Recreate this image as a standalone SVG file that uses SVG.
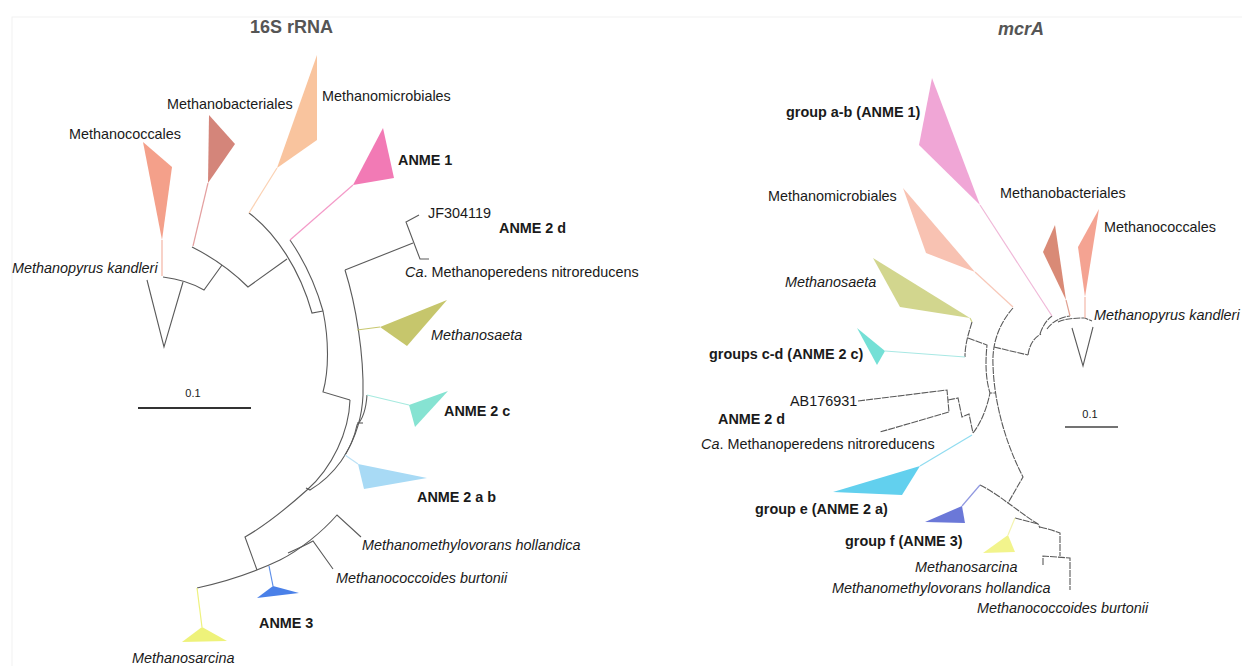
<svg xmlns="http://www.w3.org/2000/svg" width="1242" height="666" viewBox="0 0 1242 666">
<style>
text{font-family:"Liberation Sans",Arial,sans-serif;font-size:14.4px;fill:#1a1a1a}
.b{font-weight:bold}
.i{font-style:italic}
.t{font-size:18px;font-weight:bold;fill:#555}
.s{font-size:11px}
.br{fill:none;stroke:#5a5a5a;stroke-width:1.1}
.rb{fill:none;stroke:#5a5a5a;stroke-width:1.1;stroke-dasharray:7 1}
.st{fill:none;stroke-width:1.2}
</style>
<rect x="0" y="0" width="1242" height="666" fill="#fff"/>
<rect x="12" y="17" width="1240" height="660" fill="none" stroke="#f1f1f1"/>

<text class="t" x="250" y="33">16S rRNA</text>
<text class="t i" x="998" y="35">mcrA</text>

<!-- LEFT TREE connectors -->
<g id="left-connectors">
<path class="br" d="M163,277 Q187,280 204,290 L222,265"/>
<path class="br" d="M192,247 Q224,263 248,287 L287,259"/>
<path class="br" d="M249,213 C276,233 300,270 312,313 L323,311"/>
<path class="br" d="M290,240 Q312,272 323,311 C329,340 329,370 323,392 L350,400"/>
<path class="br" d="M350,400 C349,432 332,468 307,490 C288,507 266,525 245,537 L257,570"/>
<path class="br" d="M197,588 C225,582 255,572 280,560 C300,550 322,532 337,515 L361,537"/>
<path class="br" d="M288,553 C297,549 306,545 313,541 L333,569"/>
<path class="br" d="M345,270 L413,243"/>
<path class="br" d="M419,215 L406,222 L420,259 L429,259"/>
<path class="br" d="M345,270 C356,305 364,355 363,395 C362,420 354,440 345,455"/>
<path class="br" d="M367,395 C366,410 362,420 357,425 C352,450 335,475 310,490 L306,488"/>
<path class="br" d="M357,423 L363,423"/>
<path class="br" d="M147,280 L164,347 L183,282"/>
<line x1="138" y1="408" x2="251" y2="408" stroke="#333" stroke-width="2"/>
</g>
<text class="s" x="193" y="397" text-anchor="middle">0.1</text>

<!-- LEFT TREE nodes -->
<g id="l-methanococcales">
<path class="st" d="M162,240 L162,276" stroke="#f4b4a4"/>
<polygon points="143,142 172,167 162,240" fill="#f4a08a"/>
<text x="69" y="139">Methanococcales</text>
</g>
<g id="l-methanobacteriales">
<path class="st" d="M208,183 L193,246" stroke="#e4a0a0"/>
<polygon points="209,115 235,144 208,183" fill="#d4857a"/>
<text x="167" y="109">Methanobacteriales</text>
</g>
<g id="l-methanomicrobiales">
<path class="st" d="M277,168 L249,213" stroke="#fbd2b4"/>
<polygon points="317,55 317,140 277,168" fill="#f9c49e"/>
<text x="322" y="101">Methanomicrobiales</text>
</g>
<g id="l-anme1">
<path class="st" d="M353,185 L290,240" stroke="#f49ac8"/>
<polygon points="383,128 394,178 353,185" fill="#f27ab5"/>
<text class="b" x="398" y="165">ANME 1</text>
</g>
<g id="l-anme2d">
<text x="428" y="218">JF304119</text>
<text class="b" x="499" y="233">ANME 2 d</text>
<text x="405" y="277"><tspan class="i">Ca</tspan>. Methanoperedens nitroreducens</text>
</g>
<g id="l-methanopyrus">
<text class="i" x="12" y="273">Methanopyrus kandleri</text>
</g>
<g id="l-methanosaeta">
<path class="st" d="M357,330 L380,327" stroke="#c8c870"/>
<polygon points="380,327 447,300 407,346" fill="#c6c66c"/>
<text class="i" x="431" y="340">Methanosaeta</text>
</g>
<g id="l-anme2c">
<path class="st" d="M367,395 L409,405" stroke="#a6eadf"/>
<polygon points="409,405 448,391 415,427" fill="#86e3d2"/>
<text class="b" x="444" y="416">ANME 2 c</text>
</g>
<g id="l-anme2ab">
<path class="st" d="M345,455 L358,464" stroke="#bde2f6"/>
<polygon points="358,464 427,478 364,489" fill="#a8daf5"/>
<text class="b" x="417" y="502">ANME 2 a b</text>
</g>
<g id="l-methanomethylovorans">
<text class="i" x="362" y="550">Methanomethylovorans hollandica</text>
</g>
<g id="l-methanococcoides">
<text class="i" x="336" y="583">Methanococcoides burtonii</text>
</g>
<g id="l-anme3">
<path class="st" d="M269,566 L273,586" stroke="#6090e8"/>
<polygon points="273,586 299,593 257,598" fill="#4a80e8"/>
<text class="b" x="259" y="628">ANME 3</text>
</g>
<g id="l-methanosarcina">
<path class="st" d="M197,588 L202,627" stroke="#eef27e"/>
<polygon points="202,627 227,641 182,642" fill="#eef27a"/>
<text class="i" x="132" y="663">Methanosarcina</text>
</g>

<!-- RIGHT TREE connectors -->
<g id="right-connectors">
<path class="rb" d="M972,322 C968,335 965,345 965,357"/>
<path class="rb" d="M968,338 L987,345 C985,365 986,380 990,393 L995,393"/>
<path class="rb" d="M1013,308 C998,325 992,345 993,365 C994,400 1004,440 1023,477 L1008,503"/>
<path class="rb" d="M994,347 L1028,355"/>
<path class="rb" d="M1028,355 Q1030,340 1041,334"/>
<path class="rb" d="M1040,334 Q1044,322 1052,316"/>
<path class="rb" d="M1047,329 Q1055,318 1070,316"/>
<path class="rb" d="M1058,322 Q1066,318 1085,318 L1092,321"/>
<path class="rb" d="M858,401 L947,390 L949,412 L880,432"/>
<path class="rb" d="M948,400 L958,398 L962,417 L969,414 L973,433"/>
<path class="rb" d="M973,433 C981,423 987,408 990,393"/>
<path class="rb" d="M980,485 C990,490 1000,497 1008,503 C1018,510 1028,518 1038,524 L1040,528"/>
<path class="rb" d="M1015,518 L1038,524"/>
<path class="rb" d="M1040,527 C1048,529 1055,531 1060,533 L1060,556"/>
<path class="rb" d="M1043,565 L1043,556 L1070,558 L1070,590"/>
<path class="br" d="M1072,328 L1083,366 L1093,327"/>
<line x1="1065" y1="427" x2="1118" y2="427" stroke="#444" stroke-width="1.4"/>
</g>
<text class="s" x="1090" y="418" text-anchor="middle">0.1</text>

<!-- RIGHT TREE nodes -->
<g id="r-anme1">
<path class="st" d="M980,205 L1052,316" stroke="#f0b8d8"/>
<polygon points="932,78 980,205 919,145" fill="#f0a6d6"/>
<text class="b" x="786" y="117">group a-b (ANME 1)</text>
</g>
<g id="r-methanomicrobiales">
<path class="st" d="M975,272 L1013,307" stroke="#f8c8b8"/>
<polygon points="903,188 975,272 926,253" fill="#f8c2b2"/>
<text x="768" y="201">Methanomicrobiales</text>
</g>
<g id="r-methanobacteriales">
<path class="st" d="M1066,300 L1070,316" stroke="#e0a090"/>
<polygon points="1055,225 1066,300 1043,252" fill="#d98a76"/>
<text x="1000" y="198">Methanobacteriales</text>
</g>
<g id="r-methanococcales">
<path class="st" d="M1085,297 L1085,318" stroke="#f4b8a8"/>
<polygon points="1099,209 1085,297 1078,247" fill="#f4a392"/>
<text x="1104" y="232">Methanococcales</text>
</g>
<g id="r-methanopyrus">
<text class="i" x="1094" y="320">Methanopyrus kandleri</text>
</g>
<g id="r-methanosaeta">
<path class="st" d="M970,318 L972,322" stroke="#d2d68e"/>
<polygon points="873,258 970,318 900,307" fill="#d2d68e"/>
<text class="i" x="785" y="287">Methanosaeta</text>
</g>
<g id="r-anme2c">
<path class="st" d="M885,351 L965,357" stroke="#a8e8e4"/>
<polygon points="857,328 885,351 877,365" fill="#74e0d6"/>
<text class="b" x="709" y="359">groups c-d (ANME 2 c)</text>
</g>
<g id="r-anme2d">
<text x="790" y="406">AB176931</text>
<text class="b" x="718" y="424">ANME 2 d</text>
<text x="701" y="449"><tspan class="i">Ca</tspan>. Methanoperedens nitroreducens</text>
</g>
<g id="r-anme2a">
<path class="st" d="M920,466 L972,435" stroke="#90dcf0"/>
<polygon points="920,466 902,495 833,492" fill="#62d0ee"/>
<text class="b" x="755" y="514">group e (ANME 2 a)</text>
</g>
<g id="r-anme3">
<path class="st" d="M962,506 L980,485" stroke="#9098e0"/>
<polygon points="962,506 965,523 925,522" fill="#6b78d8"/>
<text class="b" x="845" y="546">group f (ANME 3)</text>
</g>
<g id="r-methanosarcina">
<path class="st" d="M1008,535 L1015,518" stroke="#f4f4b0"/>
<polygon points="1008,535 1015,552 983,553" fill="#f2f48c"/>
<text class="i" x="915" y="572">Methanosarcina</text>
</g>
<g id="r-methanomethylovorans">
<text class="i" x="832" y="593">Methanomethylovorans hollandica</text>
</g>
<g id="r-methanococcoides">
<text class="i" x="977" y="613">Methanococcoides burtonii</text>
</g>
</svg>
